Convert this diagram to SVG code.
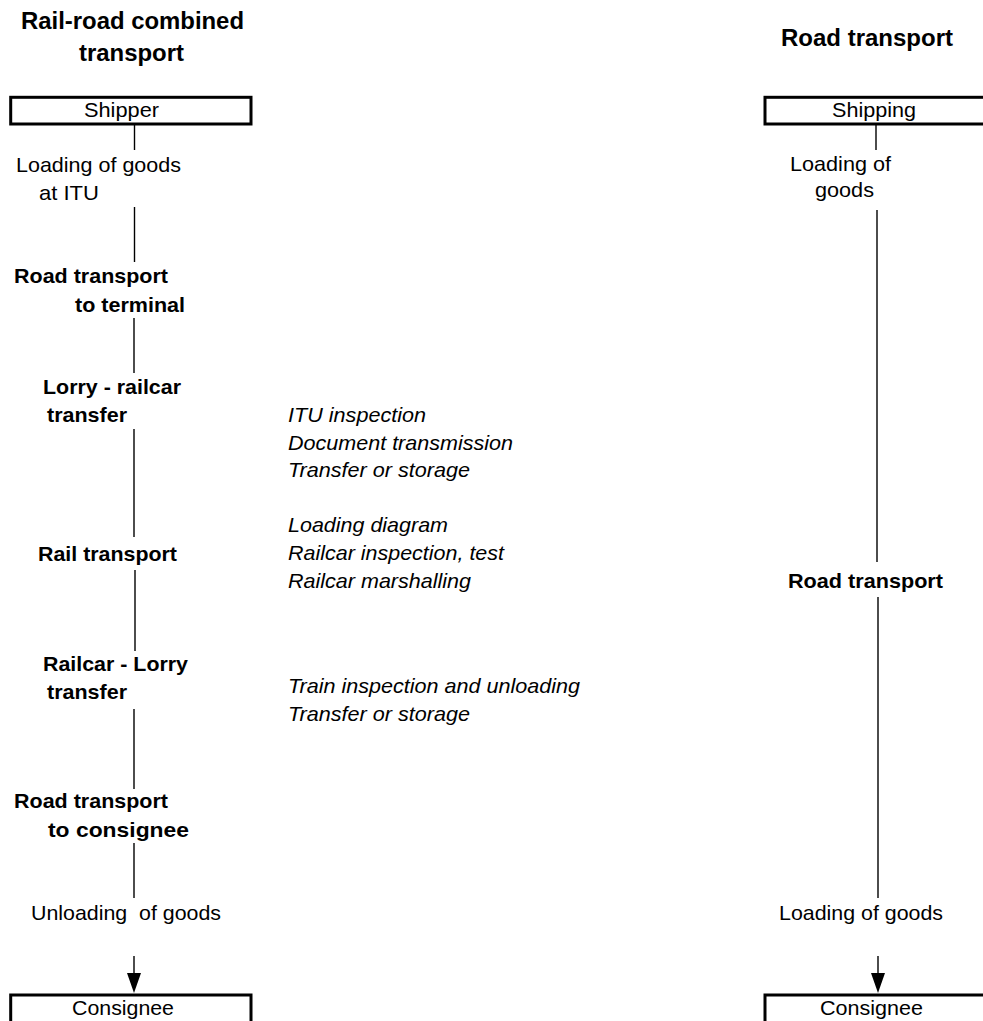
<svg xmlns="http://www.w3.org/2000/svg" width="983" height="1021" viewBox="0 0 983 1021">
<style>
  text { font-family: "Liberation Sans", Arial, sans-serif; fill: #000; }
  .t { font-size: 19.8px; }
  .b { font-size: 19.8px; font-weight: bold; }
  .i { font-size: 19.8px; font-style: italic; }
  .h { font-size: 23px; font-weight: bold; }
  .box { fill: #fff; stroke: #000; stroke-width: 3; }
  .ln { stroke: #000; stroke-width: 1.4; fill: none; }
</style>
<defs>
  <marker id="ah" markerUnits="userSpaceOnUse" markerWidth="20" markerHeight="14" viewBox="0 0 20 14" refX="0" refY="7" orient="auto">
    <path d="M0,0 L20,7 L0,14 z" fill="#000"/>
  </marker>
</defs>
<rect width="983" height="1021" fill="#fff"/>

<g id="titles">
  <text class="h" x="21" y="29" textLength="223" lengthAdjust="spacingAndGlyphs">Rail-road combined</text>
  <text class="h" x="79" y="61" textLength="105" lengthAdjust="spacingAndGlyphs">transport</text>
  <text class="h" x="781" y="46" textLength="172" lengthAdjust="spacingAndGlyphs">Road transport</text>
</g>

<g id="connectors">
  <line class="ln" x1="134.5" y1="125" x2="134.5" y2="150"/>
  <line class="ln" x1="134.5" y1="207" x2="134.5" y2="262"/>
  <line class="ln" x1="134" y1="318" x2="134" y2="373"/>
  <line class="ln" x1="134" y1="429" x2="134" y2="537"/>
  <line class="ln" x1="135" y1="570" x2="135" y2="651"/>
  <line class="ln" x1="134" y1="709" x2="134" y2="789"/>
  <line class="ln" x1="134" y1="843" x2="134" y2="898"/>
  <line class="ln" x1="134" y1="956" x2="134" y2="973" marker-end="url(#ah)"/>
  <line class="ln" x1="876" y1="125" x2="876" y2="150"/>
  <line class="ln" x1="877" y1="210" x2="877" y2="562"/>
  <line class="ln" x1="878" y1="597" x2="878" y2="898"/>
  <line class="ln" x1="878" y1="956" x2="878" y2="973" marker-end="url(#ah)"/>
</g>

<g id="shipper">
  <rect class="box" x="10.7" y="97.3" width="240.3" height="26.7"/>
  <text class="t" x="84" y="117" textLength="75" lengthAdjust="spacingAndGlyphs">Shipper</text>
</g>
<g id="loading-itu">
  <text class="t" x="16" y="172" textLength="165" lengthAdjust="spacingAndGlyphs">Loading of goods</text>
  <text class="t" x="39" y="200" textLength="60" lengthAdjust="spacingAndGlyphs">at ITU</text>
</g>
<g id="road-to-terminal">
  <text class="b" x="14" y="283" textLength="154" lengthAdjust="spacingAndGlyphs">Road transport</text>
  <text class="b" x="75" y="312" textLength="110" lengthAdjust="spacingAndGlyphs">to terminal</text>
</g>
<g id="lorry-railcar">
  <text class="b" x="43" y="394" textLength="138" lengthAdjust="spacingAndGlyphs">Lorry - railcar</text>
  <text class="b" x="47" y="422" textLength="80" lengthAdjust="spacingAndGlyphs">transfer</text>
</g>
<g id="rail-transport">
  <text class="b" x="38" y="561" textLength="139" lengthAdjust="spacingAndGlyphs">Rail transport</text>
</g>
<g id="railcar-lorry">
  <text class="b" x="43" y="671" textLength="145" lengthAdjust="spacingAndGlyphs">Railcar - Lorry</text>
  <text class="b" x="47" y="699" textLength="80" lengthAdjust="spacingAndGlyphs">transfer</text>
</g>
<g id="road-to-consignee">
  <text class="b" x="14" y="808" textLength="154" lengthAdjust="spacingAndGlyphs">Road transport</text>
  <text class="b" x="48" y="837" textLength="141" lengthAdjust="spacingAndGlyphs">to consignee</text>
</g>
<g id="unloading">
  <text class="t" x="31" y="920" textLength="190" lengthAdjust="spacingAndGlyphs" xml:space="preserve">Unloading  of goods</text>
</g>
<g id="consignee-left">
  <rect class="box" x="10.7" y="995" width="240.3" height="40"/>
  <text class="t" x="72" y="1015" textLength="102" lengthAdjust="spacingAndGlyphs">Consignee</text>
</g>

<g id="notes-transfer">
  <text class="i" x="288" y="422" textLength="138" lengthAdjust="spacingAndGlyphs">ITU inspection</text>
  <text class="i" x="288" y="450" textLength="225" lengthAdjust="spacingAndGlyphs">Document transmission</text>
  <text class="i" x="288" y="477" textLength="182" lengthAdjust="spacingAndGlyphs">Transfer or storage</text>
</g>
<g id="notes-rail">
  <text class="i" x="288" y="532" textLength="160" lengthAdjust="spacingAndGlyphs">Loading diagram</text>
  <text class="i" x="288" y="560" textLength="216" lengthAdjust="spacingAndGlyphs">Railcar inspection, test</text>
  <text class="i" x="288" y="588" textLength="183" lengthAdjust="spacingAndGlyphs">Railcar marshalling</text>
</g>
<g id="notes-unload">
  <text class="i" x="288" y="693" textLength="292" lengthAdjust="spacingAndGlyphs">Train inspection and unloading</text>
  <text class="i" x="288" y="721" textLength="182" lengthAdjust="spacingAndGlyphs">Transfer or storage</text>
</g>

<g id="shipping">
  <rect class="box" x="765" y="97.3" width="240" height="26.7"/>
  <text class="t" x="832" y="117" textLength="84" lengthAdjust="spacingAndGlyphs">Shipping</text>
</g>
<g id="loading-right">
  <text class="t" x="790" y="171" textLength="101" lengthAdjust="spacingAndGlyphs">Loading of</text>
  <text class="t" x="815" y="197" textLength="59" lengthAdjust="spacingAndGlyphs">goods</text>
</g>
<g id="road-transport-right">
  <text class="b" x="788" y="588" textLength="155" lengthAdjust="spacingAndGlyphs">Road transport</text>
</g>
<g id="loading-goods-right">
  <text class="t" x="779" y="920" textLength="164" lengthAdjust="spacingAndGlyphs">Loading of goods</text>
</g>
<g id="consignee-right">
  <rect class="box" x="765" y="995" width="240" height="40"/>
  <text class="t" x="820" y="1015" textLength="103" lengthAdjust="spacingAndGlyphs">Consignee</text>
</g>
</svg>
